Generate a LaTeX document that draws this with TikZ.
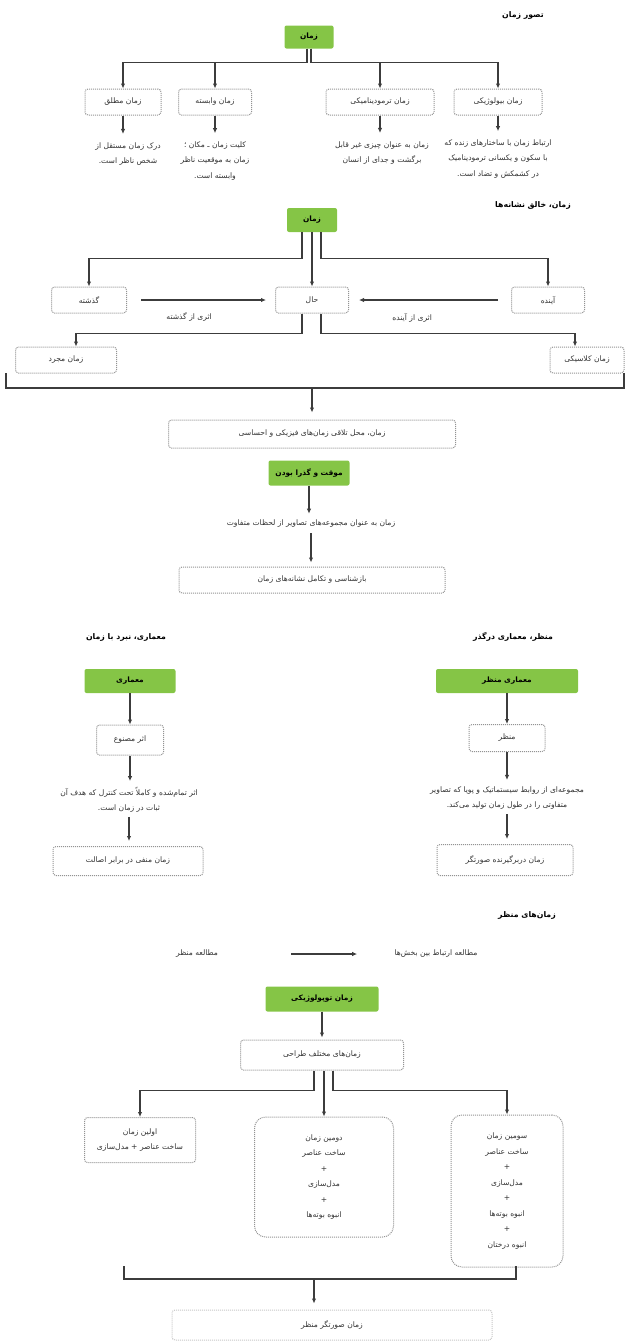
\documentclass[tikz,border=0pt]{standalone}
\usepackage{fontspec}
\newfontfamily\farsi[Script=Arabic]{DejaVu Sans}
\TeXXeTstate=1
\usetikzlibrary{arrows.meta}
\definecolor{leafgreen}{RGB}{133,197,70}
\definecolor{linegray}{RGB}{60,60,60}
\newcommand{\fa}[1]{\beginR #1\endR}
\tikzset{every node/.style={font=\farsi\fontsize{7.6}{15.5}\selectfont, text=black!80, align=center},
  greenbox/.style={fill=leafgreen, rounded corners=2pt, inner sep=0pt, text=black, font=\farsi\bfseries\fontsize{7.4}{15.5}\selectfont},
  dotbox/.style={draw=gray!85, densely dotted, line width=1pt, rounded corners=3pt, inner sep=0pt},
  tallbox/.style={dotbox, rounded corners=11pt},
  title/.style={text=black, font=\farsi\bfseries\fontsize{7.8}{9}\selectfont},
  link/.style={draw=linegray, line width=1.2pt},
  arr/.style={link, -{Latex[length=5pt,width=4.5pt]}}}

\begin{document}
\begin{tikzpicture}[x=1pt,y=-1pt]
\useasboundingbox (0,0) rectangle (629,1342);
\node[title] (tasavor) at (523,15) {\fa{تصور زمان}};
\node[greenbox, minimum width=49pt, minimum height=23pt] (zaman1) at (309,37) {\fa{زمان}};
\node[dotbox, minimum width=76pt, minimum height=26pt] (motlagh) at (123,102) {\fa{زمان مطلق}};
\node[dotbox, minimum width=73pt, minimum height=26pt] (vabaste) at (215,102) {\fa{زمان وابسته}};
\node[dotbox, minimum width=108pt, minimum height=26pt] (termo) at (380,102) {\fa{زمان ترمودینامیکی}};
\node[dotbox, minimum width=88pt, minimum height=26pt] (bio) at (498,102) {\fa{زمان بیولوژیکی}};
\node (motlaghT) at (128,154) {\fa{درک زمان مستقل از}\\\fa{شخص ناظر است.}};
\node (vabasteT) at (215,161) {\fa{کلیت زمان ـ مکان ؛}\\\fa{زمان به موقعیت ناظر}\\\fa{وابسته است.}};
\node (termoT) at (382,153) {\fa{زمان به عنوان چیزی غیر قابل}\\\fa{برگشت و جدای از انسان}};
\node (bioT) at (498,159) {\fa{ارتباط زمان با ساختارهای زنده که}\\\fa{با سکون و یکسانی ترمودینامیک}\\\fa{در کشمکش و تضاد است.}};
\draw[arr] ([xshift=-2pt]zaman1.south) -- ++(0,14) -| (motlagh.north);
\draw[arr] ([xshift=-2pt]zaman1.south) -- ++(0,14) -| (vabaste.north);
\draw[arr] ([xshift=2pt]zaman1.south) -- ++(0,14) -| (termo.north);
\draw[arr] ([xshift=2pt]zaman1.south) -- ++(0,14) -| (bio.north);
\foreach \b in {motlagh,vabaste,termo,bio}
  \draw[arr, shorten >=5pt] (\b.south) -- (\b.south |- \b T.north);

\node[title] (khalegh) at (533,205) {\fa{زمان، خالق نشانه‌ها}};
\node[greenbox, minimum width=50pt, minimum height=24pt] (zaman2) at (312,220) {\fa{زمان}};
\node[dotbox, minimum width=75pt, minimum height=26pt] (gozashte) at (89,300) {\fa{گذشته}};
\node[dotbox, minimum width=73pt, minimum height=26pt] (hal) at (312,300) {\fa{حال}};
\node[dotbox, minimum width=73pt, minimum height=26pt] (ayande) at (548,300) {\fa{آینده}};
\node[dotbox, minimum width=101pt, minimum height=26pt] (mojarad) at (66,360) {\fa{زمان مجرد}};
\node[dotbox, minimum width=74pt, minimum height=26pt] (klasik) at (587,360) {\fa{زمان کلاسیکی}};
\draw[arr] ([xshift=-10pt]zaman2.south) -- ++(0,26) -| (gozashte.north);
\draw[arr] (zaman2.south) -- (zaman2.south |- hal.north);
\draw[arr] ([xshift=9pt]zaman2.south) -- ++(0,26) -| (ayande.north);
\draw[arr, shorten <=14pt, shorten >=9pt] (gozashte) -- node[pos=0.42, below=9pt]{\fa{اثری از گذشته}} (hal);
\draw[arr, shorten <=13pt, shorten >=10pt] (ayande) -- node[pos=0.61, below=9pt]{\fa{اثری از آینده}} (hal);
\draw[arr] ([xshift=-10pt]hal.south) -- ++(0,20) -| ([xshift=10pt]mojarad.north);
\draw[arr] ([xshift=9pt]hal.south) -- ++(0,20) -| ([xshift=-12pt]klasik.north);
\coordinate (brL) at (6,373);
\coordinate (brR) at (624,373);
\coordinate (brM) at (312,388);
\draw[link] (brL) -- ++(0,15) -| (brR);
\node[dotbox, minimum width=287pt, minimum height=28pt] (talaghi) at (312,434) {\fa{زمان، محل تلاقی زمان‌های فیزیکی و احساسی}};
\draw[arr, shorten >=7pt] (brM) -- (talaghi);
\node[greenbox, minimum width=81pt, minimum height=25pt] (movaghat) at (309,473) {\fa{موقت و گذرا بودن}};
\node (tasavir) at (311,524) {\fa{زمان به عنوان مجموعه‌های تصاویر از لحظات متفاوت}};
\node[dotbox, minimum width=266pt, minimum height=26pt] (bazshenasi) at (312,580) {\fa{بازشناسی و تکامل نشانه‌های زمان}};
\draw[arr, shorten >=3pt] (movaghat.south) -- (movaghat.south |- tasavir.north);
\draw[arr, shorten <=2pt, shorten >=4pt] (tasavir) -- (tasavir |- bazshenasi.north);

\node[title] (nabard) at (126,637) {\fa{معماری، نبرد با زمان}};
\node[title] (dargozar) at (513,637) {\fa{منظر، معماری درگذر}};
\node[greenbox, minimum width=91pt, minimum height=24pt] (memari) at (130,681) {\fa{معماری}};
\node[dotbox, minimum width=67pt, minimum height=30pt] (asar) at (130,740) {\fa{اثر مصنوع}};
\node (asarT) at (129,800) {\fa{اثر تمام‌شده و کاملاً تحت کنترل که هدف آن}\\\fa{ثبات در زمان است.}};
\node[dotbox, minimum width=150pt, minimum height=29pt] (manfi) at (128,861) {\fa{زمان منفی در برابر اصالت}};
\draw[arr] (memari) -- (asar);
\draw[arr, shorten >=3pt] (asar) -- (asar |- asarT.north);
\draw[arr, shorten <=1pt, shorten >=5pt] (asarT) -- (asarT |- manfi.north);
\node[greenbox, minimum width=142pt, minimum height=24pt] (memariM) at (507,681) {\fa{معماری منظر}};
\node[dotbox, minimum width=76pt, minimum height=27pt] (manzar) at (507,738) {\fa{منظر}};
\node (manzarT) at (507,798) {\fa{مجموعه‌ای از روابط سیستماتیک و پویا که تصاویر}\\\fa{متفاوتی را در طول زمان تولید می‌کند.}};
\node[dotbox, minimum width=136pt, minimum height=31pt] (dargir) at (505,860) {\fa{زمان دربرگیرنده صورتگر}};
\draw[arr] (memariM) -- (manzar);
\draw[arr, shorten >=3pt] (manzar) -- (manzarT);
\draw[arr, shorten <=1pt, shorten >=5pt] (manzarT) -- (manzarT |- dargir.north);

\node[title] (zamanha) at (527,915) {\fa{زمان‌های منظر}};
\node (motale1) at (197,954) {\fa{مطالعه منظر}};
\node (motale2) at (436,954) {\fa{مطالعه ارتباط بین بخش‌ها}};
\draw[arr, shorten <=70pt, shorten >=34pt] (motale1) -- (motale2);
\node[greenbox, minimum width=113pt, minimum height=25pt] (topo) at (322,999) {\fa{زمان توپولوژیکی}};
\node[dotbox, minimum width=163pt, minimum height=30pt] (mokhtalef) at (322,1055) {\fa{زمان‌های مختلف طراحی}};
\draw[arr, shorten >=2pt] (topo) -- (mokhtalef);
\node[dotbox, minimum width=111pt, minimum height=45pt] (avalin) at (140,1140) {\fa{اولین زمان}\\\fa{ساخت عناصر + مدل‌سازی}};
\node[tallbox, minimum width=139pt, minimum height=120pt] (dovomin) at (324,1177) {\fa{دومین زمان}\\\fa{ساخت عناصر}\\+\\\fa{مدل‌سازی}\\+\\\fa{انبوه بوته‌ها}};
\node[tallbox, minimum width=112pt, minimum height=152pt] (sevomin) at (507,1191) {\fa{سومین زمان}\\\fa{ساخت عناصر}\\+\\\fa{مدل‌سازی}\\+\\\fa{انبوه بوته‌ها}\\+\\\fa{انبوه درختان}};
\draw[arr] ([xshift=-8pt]mokhtalef.south) -- ++(0,20) -| (avalin.north);
\draw[arr] ([xshift=2pt]mokhtalef.south) -- (dovomin.north);
\draw[arr] ([xshift=11pt]mokhtalef.south) -- ++(0,20) -| (sevomin.north);
\coordinate (bkL) at (124,1266);
\coordinate (bkR) at (516,1266);
\coordinate (bkM) at (314,1279);
\draw[link] (bkL) -- ++(0,13) -| (bkR);
\node[dotbox, draw=gray!45, minimum width=320pt, minimum height=30pt] (soratgar) at (332,1325) {\fa{زمان صورتگر منظر}};
\draw[arr, shorten >=6pt] (bkM) -- (bkM |- soratgar.north);
\end{tikzpicture}
\end{document}
